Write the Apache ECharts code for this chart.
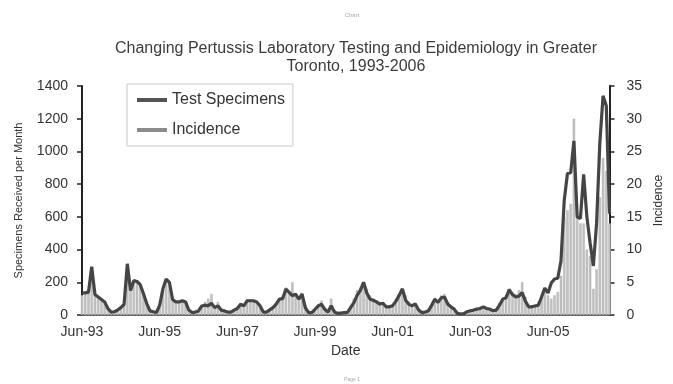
<!DOCTYPE html>
<html>
<head>
<meta charset="utf-8">
<script src="https://cdn.jsdelivr.net/npm/echarts@6/dist/echarts.min.js"></script>
<style>
  html, body { margin: 0; padding: 0; background: #fff; }
  #chart { width: 673px; height: 384px; }
</style>
</head>
<body>
<div id="chart"></div>
<script>
// monthly data, Jun-93 onward
const monthNames = ['Jan', 'Feb', 'Mar', 'Apr', 'May', 'Jun', 'Jul', 'Aug', 'Sep', 'Oct', 'Nov', 'Dec'];

// Test Specimens (left axis, specimens received per month)
const specimens = [
  135, 135, 140, 295, 125, 110, 95, 80, 40, 18, 20, 30, 45, 65, 313, 150, 210, 205, 185, 130,
  70, 25, 20, 15, 60, 160, 220, 200, 95, 80, 80, 87, 80, 30, 15, 18, 25, 55, 60, 56,
  72, 45, 56, 30, 25, 18, 18, 30, 40, 66, 56, 87, 87, 87, 80, 56, 18, 18, 31, 45,
  66, 97, 100, 159, 138, 118, 128, 97, 128, 45, 15, 15, 35, 56, 66, 35, 18, 56, 18, 10,
  12, 14, 16, 45, 75, 120, 150, 200, 135, 97, 90, 80, 67, 72, 50, 50, 57, 85, 120, 160,
  90, 65, 57, 67, 30, 15, 18, 25, 57, 97, 77, 105, 110, 67, 50, 36, 10, 6, 8, 20,
  26, 30, 36, 40, 50, 40, 36, 26, 30, 60, 97, 105, 155, 125, 110, 115, 137, 85, 50, 50,
  55, 60, 110, 165, 135, 195, 220, 225, 330, 700, 865, 870, 1065, 600, 590, 860, 600, 440, 300, 560,
  1050, 1340, 1280, 620
];

// Incidence (right axis)
const incidence = [
  3.0, 3.2, 3.5, 6.0, 3.5, 2.8, 2.5, 2.0, 1.2, 0.6, 0.5, 0.8, 1.2, 1.8, 6.5, 4.5, 5.0, 5.0, 4.5, 3.2, 1.8,
  0.8, 0.5, 0.5, 1.5, 3.8, 5.0, 4.5, 2.5, 2.0, 2.2, 2.2, 1.8, 0.8, 0.5, 0.5, 0.8, 1.5, 2.0, 2.5, 3.2,
  1.5, 2.0, 1.0, 0.8, 0.5, 0.6, 0.8, 1.2, 1.8, 1.6, 2.4, 2.4, 2.2, 2.0, 1.5, 0.6, 0.5, 0.9, 1.3, 1.8,
  2.6, 3.0, 4.2, 3.6, 5.0, 3.2, 2.6, 3.4, 1.5, 0.6, 0.5, 1.0, 1.6, 2.2, 1.2, 0.6, 2.5, 0.8, 0.5, 0.5,
  0.5, 0.6, 1.5, 2.5, 3.8, 4.2, 5.0, 4.0, 3.0, 2.5, 2.2, 2.0, 2.0, 1.4, 1.5, 1.6, 2.4, 3.2, 4.0, 3.0,
  2.0, 1.6, 1.8, 1.0, 0.5, 0.5, 0.8, 1.6, 2.6, 2.2, 3.0, 3.2, 2.0, 1.5, 1.0, 0.4, 0.3, 0.4, 0.6, 0.8,
  0.9, 1.0, 1.2, 1.4, 1.2, 1.0, 0.8, 1.0, 1.8, 2.6, 3.0, 4.0, 3.5, 3.2, 3.8, 5.0, 2.8, 1.5, 1.5, 1.6,
  2.0, 3.0, 3.5, 3.0, 2.5, 3.0, 3.5, 6.0, 15, 16, 17, 30, 15, 14, 14, 10, 9, 4, 7, 18, 24, 22, 14
];

// category labels: Jun-93 ... one per month
const categories = [];
for (let i = 0; i < specimens.length; i++) {
  const m = (5 + i) % 12;
  const y = (93 + Math.floor((5 + i) / 12)) % 100;
  categories.push(monthNames[m] + '-' + String(y).padStart(2, '0'));
}

const font = 'Liberation Sans, Arial, sans-serif';
const chart = echarts.init(document.getElementById('chart'));

chart.setOption({
  backgroundColor: '#fff',
  animation: false,
  textStyle: { fontFamily: font },
  graphic: [
    { type: 'text', x: 352, y: 15, style: { text: 'Chart', font: '6px ' + font, fill: '#aaa', textAlign: 'center', textVerticalAlign: 'middle' } },
    { type: 'text', x: 356, y: 49, style: { text: 'Changing Pertussis Laboratory Testing and Epidemiology in Greater', font: '16px ' + font, fill: '#3c3c3c', textAlign: 'center', textVerticalAlign: 'middle' } },
    { type: 'text', x: 356, y: 67, style: { text: 'Toronto, 1993-2006', font: '16px ' + font, fill: '#3c3c3c', textAlign: 'center', textVerticalAlign: 'middle' } },
    { type: 'text', x: 352, y: 380, style: { text: 'Page 1', font: '5px ' + font, fill: '#aaa', textAlign: 'center', textVerticalAlign: 'middle' } }
  ],
  legend: {
    orient: 'vertical',
    left: 127,
    top: 84,
    padding: [8, 8, 8, 10],
    itemGap: 14,
    itemWidth: 30,
    itemHeight: 4,
    borderColor: '#c8c8c8',
    borderWidth: 1,
    textStyle: { fontSize: 16, color: '#333', fontFamily: font },
    data: [
      { name: 'Test Specimens', icon: 'rect', itemStyle: { color: '#555', borderWidth: 0 } },
      { name: 'Incidence', icon: 'rect', itemStyle: { color: '#8c8c8c', borderWidth: 0 } }
    ]
  },
  grid: { left: 82, right: 57, top: 86, bottom: 69 },
  xAxis: {
    type: 'category',
    data: categories,
    boundaryGap: false,
    name: 'Date',
    nameLocation: 'middle',
    nameGap: 29,
    nameTextStyle: { fontSize: 14, color: '#333' },
    axisLine: { lineStyle: { color: '#333', width: 1.5 } },
    axisTick: { show: false },
    axisLabel: { interval: 23, fontSize: 14, color: '#333', margin: 10 },
    splitLine: { show: false }
  },
  yAxis: [
    {
      type: 'value',
      min: 0,
      max: 1400,
      interval: 200,
      name: 'Specimens Received per Month',
      nameLocation: 'middle',
      nameRotate: 90,
      nameGap: 58,
      nameTextStyle: { fontSize: 11, color: '#333' },
      axisLine: { show: true, lineStyle: { color: '#222', width: 2 } },
      axisTick: { show: true, length: 5, lineStyle: { color: '#222', width: 1.5 } },
      axisLabel: { fontSize: 14, color: '#333', margin: 14, formatter: (v) => String(v) },
      splitLine: { show: false }
    },
    {
      type: 'value',
      min: 0,
      max: 35,
      interval: 5,
      position: 'right',
      name: 'Incidence',
      nameLocation: 'middle',
      nameRotate: 90,
      nameGap: 43,
      nameTextStyle: { fontSize: 12, color: '#333' },
      axisLine: { show: true, lineStyle: { color: '#222', width: 2 } },
      axisTick: { show: true, length: 5, lineStyle: { color: '#222', width: 1.5 } },
      axisLabel: { fontSize: 14, color: '#333', margin: 17, formatter: (v) => String(v) },
      splitLine: { show: false }
    }
  ],
  series: [
    {
      name: 'Incidence',
      type: 'bar',
      yAxisIndex: 1,
      data: incidence,
      barWidth: 2.4,
      itemStyle: { color: '#c2c2c2', borderColor: '#a8a8a8', borderWidth: 0.4 },
      z: 1
    },
    {
      name: 'Test Specimens',
      type: 'line',
      yAxisIndex: 0,
      data: specimens,
      showSymbol: false,
      lineStyle: { color: '#454545', width: 3.2 },
      itemStyle: { color: '#555' },
      z: 3
    }
  ]
});
</script>
</body>
</html>
